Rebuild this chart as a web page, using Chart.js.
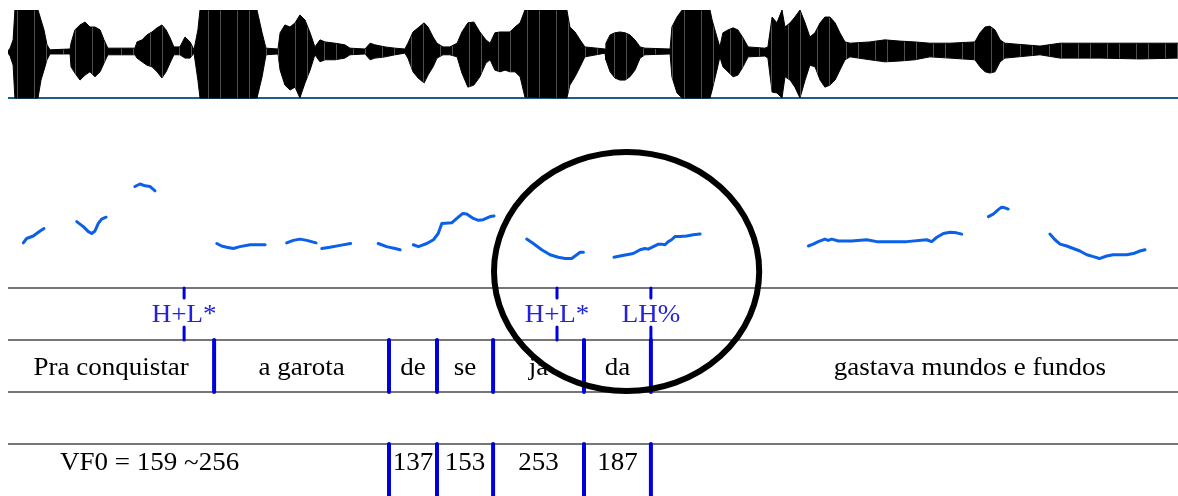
<!DOCTYPE html>
<html>
<head>
<meta charset="utf-8">
<script src="https://cdn.jsdelivr.net/npm/chart.js@4.4.1/dist/chart.umd.min.js"></script>
<style>
  html, body { margin: 0; padding: 0; background: #fff; }
  #figure { position: relative; width: 1178px; height: 496px; overflow: hidden; }
  #figure canvas { position: absolute; left: 0; }
</style>
</head>
<body>
<div id="figure">
  <canvas id="wave" width="1178" height="100" style="top:0"></canvas>
  <canvas id="pitch" width="1178" height="188" style="top:100px"></canvas>
  <canvas id="tiers" width="1178" height="396" style="top:100px"></canvas>
</div>
<script>
// time axis in seconds, shared by all three panels
const T_MAX = 3.9;

// waveform envelope (relative amplitude, clipped at the frame)
const waveTimes = [0.000,0.007,0.017,0.023,0.100,0.110,0.120,0.130,0.140,0.207,
  0.210,0.223,0.240,0.257,0.273,0.290,0.307,0.320,0.333,0.423,
  0.430,0.447,0.463,0.480,0.497,0.513,0.527,0.540,0.553,0.573,
  0.590,0.607,0.620,0.633,0.640,0.830,0.847,0.860,0.900,0.907,
  0.923,0.940,0.957,0.973,0.990,1.007,1.023,1.040,1.057,1.090,
  1.123,1.140,1.190,1.207,1.223,1.257,1.290,1.323,1.333,1.350,
  1.367,1.387,1.400,1.417,1.430,1.450,1.473,1.497,1.513,1.533,
  1.553,1.573,1.593,1.607,1.623,1.640,1.657,1.673,1.690,1.707,
  1.723,1.863,1.873,1.890,1.907,1.923,1.990,1.993,2.007,2.023,
  2.040,2.057,2.073,2.090,2.107,2.123,2.207,2.213,2.230,2.247,
  2.340,2.347,2.363,2.373,2.383,2.400,2.417,2.433,2.450,2.467,
  2.523,2.533,2.547,2.563,2.580,2.590,2.607,2.623,2.640,2.657,
  2.673,2.690,2.707,2.723,2.740,2.757,2.773,2.790,2.807,2.873,
  2.923,2.973,3.023,3.073,3.140,3.223,3.240,3.257,3.273,3.290,
  3.307,3.323,3.440,3.507,3.640,3.773,3.900];
const waveUpper = [0.01,0.08,0.28,1.00,1.00,0.76,0.52,0.16,0.04,0.06,
  0.20,0.52,0.64,0.71,0.59,0.59,0.52,0.28,0.08,0.08,
  0.23,0.28,0.40,0.47,0.57,0.64,0.52,0.33,0.11,0.11,
  0.35,0.23,0.04,0.52,1.00,1.00,0.45,0.08,0.06,0.45,
  0.64,0.59,0.69,0.88,0.76,0.45,0.11,0.28,0.23,0.20,
  0.16,0.08,0.06,0.20,0.16,0.11,0.08,0.06,0.20,0.47,
  0.57,0.69,0.59,0.35,0.20,0.11,0.11,0.20,0.47,0.69,
  0.71,0.47,0.28,0.20,0.45,0.47,0.47,0.47,0.59,0.69,
  1.00,1.00,0.59,0.47,0.28,0.11,0.06,0.20,0.40,0.45,
  0.47,0.45,0.40,0.28,0.11,0.08,0.06,0.59,0.83,1.00,
  1.00,0.76,0.35,0.11,0.45,0.52,0.57,0.52,0.33,0.11,
  0.08,0.11,0.83,0.69,1.00,0.59,0.69,0.83,1.00,0.69,
  0.35,0.45,0.69,0.83,0.83,0.69,0.45,0.23,0.20,0.23,
  0.28,0.25,0.23,0.20,0.20,0.23,0.45,0.59,0.61,0.52,
  0.28,0.20,0.13,0.20,0.20,0.20,0.20];
const waveLower = [-0.04,-0.11,-0.33,-1.12,-1.12,-0.69,-0.45,-0.20,-0.06,-0.06,
  -0.37,-0.52,-0.69,-0.57,-0.49,-0.61,-0.49,-0.28,-0.08,-0.08,
  -0.16,-0.25,-0.33,-0.37,-0.49,-0.64,-0.49,-0.28,-0.08,-0.08,
  -0.16,-0.16,-0.04,-0.69,-1.12,-1.12,-0.61,-0.08,-0.06,-0.45,
  -0.81,-0.93,-0.86,-1.12,-0.76,-0.45,-0.08,-0.25,-0.20,-0.20,
  -0.16,-0.08,-0.06,-0.20,-0.16,-0.13,-0.08,-0.04,-0.16,-0.49,
  -0.64,-0.76,-0.57,-0.37,-0.16,-0.08,-0.08,-0.13,-0.52,-0.86,
  -0.81,-0.61,-0.28,-0.20,-0.45,-0.49,-0.45,-0.49,-0.49,-0.61,
  -1.10,-1.12,-0.81,-0.61,-0.37,-0.13,-0.04,-0.20,-0.49,-0.64,
  -0.69,-0.69,-0.61,-0.45,-0.16,-0.08,-0.06,-0.61,-1.00,-1.12,
  -1.12,-0.93,-0.45,-0.13,-0.37,-0.49,-0.61,-0.57,-0.37,-0.13,
  -0.11,-0.16,-0.98,-1.00,-1.12,-0.61,-0.69,-0.86,-1.12,-0.69,
  -0.33,-0.37,-0.69,-0.86,-0.81,-0.69,-0.45,-0.20,-0.13,-0.20,
  -0.25,-0.23,-0.20,-0.13,-0.16,-0.20,-0.37,-0.49,-0.52,-0.49,
  -0.25,-0.16,-0.08,-0.16,-0.16,-0.18,-0.16];

// F0 track in Hz, null = unvoiced gap
const pitchTimes = [0.051,0.062,0.084,0.107,0.120, null,
  0.229,0.251,0.268,0.279,0.290,0.301,0.312,0.327, null,
  0.423,0.440,0.457,0.473,0.490, null,
  0.696,0.712,0.729,0.751,0.773,0.807,0.857, null,
  0.929,0.951,0.973,0.996,1.027, null,
  1.046,1.073,1.107,1.142, null,
  1.234,1.262,1.290,1.307, null,
  1.351,1.368,1.396,1.418,1.434,1.446,1.479,1.496,1.516,1.529,1.551,1.568,1.584,1.607,1.620, null,
  1.729,1.751,1.779,1.807,1.834,1.857,1.879,1.896,1.907,1.918, null,
  2.020,2.040,2.062,2.084,2.107,2.123,2.134,2.151,2.168,2.179,2.190,2.201,2.212,2.223,2.240,2.262,2.284,2.307, null,
  2.668,2.684,2.701,2.723,2.734,2.746,2.768,2.812,2.862,2.896,2.996,3.062,3.079,3.096,3.118,3.140,3.162,3.179, null,
  3.268,3.284,3.301,3.312,3.323,3.334, null,
  3.473,3.490,3.507,3.529,3.551,3.573,3.596,3.618,3.638,3.662,3.684,3.729,3.751,3.773,3.790];
const pitchHz = [172,179,183,191,195, null,
  206,198,190,187,191,203,210,213, null,
  262,266,263,262,255, null,
  171,167,165,163,166,169,169, null,
  172,176,178,176,172, null,
  163,165,168,171, null,
  171,166,163,161, null,
  169,166,171,177,187,203,204,211,219,218,211,208,209,214,215, null,
  178,171,161,153,149,147,147,153,157,157, null,
  149,151,153,155,161,163,162,166,170,170,169,174,177,182,182,183,185,186, null,
  167,170,174,178,176,178,175,175,177,174,174,177,174,181,187,189,188,186, null,
  214,218,225,229,228,226, null,
  186,177,170,167,163,159,153,150,147,151,153,153,155,159,161];

// annotation tiers
const toneLabels = ["H+L*", "H+L*", "LH%"];
const toneTimes = [0.587, 1.830, 2.143];
const words = ["Pra conquistar", "a garota", "de", "se", "ja", "da", "gastava mundos e fundos"];
const wordBounds = [0, 0.687, 1.270, 1.430, 1.617, 1.920, 2.143, 4.270];
const vfLabel = "VF0 = 159 ~256";
const vfLabelTime = 0.472;
const vfValues = ["137", "153", "253", "187"];
const vfBounds = [1.270, 1.430, 1.617, 1.920, 2.143];

// highlighted region: centre (s, tier) and radii (s, tiers)
const ringCenter = [2.062, 4.317];
const ringRadius = [0.442, 2.298];

const BLUE = "#0000dd";
const SERIF = '25px "Liberation Serif", "Times New Roman", serif';

Chart.defaults.animation = false;
Chart.defaults.responsive = false;
Chart.defaults.plugins.legend.display = false;
Chart.defaults.plugins.tooltip.enabled = false;
Chart.defaults.elements.point.radius = 0;

function timeScale() {
  return { type: "linear", min: 0, max: T_MAX, display: false };
}

// black fill with a few faint sample streaks
function waveFill() {
  const c = document.createElement("canvas");
  c.width = 29; c.height = 4;
  const g = c.getContext("2d");
  g.fillStyle = "#000";
  g.fillRect(0, 0, 29, 4);
  g.fillStyle = "#505050";
  [5, 17].forEach((x) => g.fillRect(x, 0, 1, 4));
  return g.createPattern(c, "repeat");
}

// ---- waveform ----
new Chart(document.getElementById("wave"), {
  type: "line",
  data: {
    datasets: [
      {
        data: waveTimes.map((t, i) => ({ x: t, y: waveUpper[i] })),
        borderColor: "#000", borderWidth: 1, backgroundColor: waveFill(),
        fill: "+1", tension: 0,
      },
      {
        data: waveTimes.map((t, i) => ({ x: t, y: waveLower[i] })),
        borderColor: "#000", borderWidth: 1, fill: false, tension: 0,
      },
      {
        data: [{ x: 0, y: 0 }, { x: T_MAX, y: 0 }],
        borderColor: "#3d8cc4", borderWidth: 1, fill: false,
      },
      {
        data: [{ x: 0, y: -1.12 }, { x: T_MAX, y: -1.12 }],
        borderColor: "#1d5e86", borderWidth: 2, fill: false,
      },
    ],
  },
  options: {
    layout: { padding: { left: 8, right: 0, top: 10, bottom: 0 } },
    scales: {
      x: timeScale(),
      y: { type: "linear", min: -1.17, max: 1, display: false },
    },
  },
});

// ---- pitch track ----
new Chart(document.getElementById("pitch"), {
  type: "line",
  data: {
    datasets: [
      {
        data: pitchTimes.map((t, i) => ({ x: t === null ? 0 : t, y: pitchHz[i] })),
        borderColor: "#0a60e8", borderWidth: 3, fill: false,
        spanGaps: false, tension: 0, borderJoinStyle: "round", borderCapStyle: "round",
      },
    ],
  },
  options: {
    layout: { padding: { left: 8, right: 0, top: 0, bottom: 0 } },
    scales: {
      x: timeScale(),
      y: { type: "linear", min: 100, max: 400, display: false },
    },
  },
});

// ---- tiers ----
// tier rows: 3..4 tones, 2..3 words, 1..2 empty, 0..1 VF0
function segments(list) {
  const pts = [];
  list.forEach(([x0, y0, x1, y1]) => {
    pts.push({ x: x0, y: y0 }, { x: x1, y: y1 }, { x: x1, y: null });
  });
  return pts;
}

const tierLines = segments([4, 3, 2, 1].map((y) => [0, y, wordBounds[wordBounds.length - 1], y]));
const wordMarks = segments(wordBounds.slice(1, -1).map((t) => [t, 3, t, 2]));
const vfMarks = segments(vfBounds.map((t) => [t, 1, t, 0]));
const toneMarks = segments(toneTimes.flatMap((t) => [[t, 4, t, 3.81], [t, 3.25, t, 3]]));

function drawLabel(ctx, px, py, text, color) {
  ctx.save();
  ctx.translate(px, py);
  ctx.scale(1.08, 1);
  ctx.fillStyle = color;
  ctx.fillText(text, 0, 0);
  ctx.restore();
}

const tierText = {
  id: "tierText",
  afterDatasetsDraw(chart) {
    const { ctx, scales: { x, y } } = chart;
    ctx.save();
    ctx.font = SERIF;
    ctx.textAlign = "center";
    ctx.textBaseline = "alphabetic";
    toneLabels.forEach((s, i) => {
      drawLabel(ctx, x.getPixelForValue(toneTimes[i]), y.getPixelForValue(3.346), s, "#2222dd");
    });
    words.forEach((s, i) => {
      const mid = (wordBounds[i] + wordBounds[i + 1]) / 2;
      drawLabel(ctx, x.getPixelForValue(mid), y.getPixelForValue(2.327), s, "#000");
    });
    drawLabel(ctx, x.getPixelForValue(vfLabelTime), y.getPixelForValue(0.5), vfLabel, "#000");
    vfValues.forEach((s, i) => {
      const mid = (vfBounds[i] + vfBounds[i + 1]) / 2;
      drawLabel(ctx, x.getPixelForValue(mid), y.getPixelForValue(0.5), s, "#000");
    });
    ctx.restore();
  },
  afterDraw(chart) {
    const { ctx, scales: { x, y } } = chart;
    const cx = x.getPixelForValue(ringCenter[0]);
    const cy = y.getPixelForValue(ringCenter[1]);
    const rx = x.getPixelForValue(ringCenter[0] + ringRadius[0]) - cx;
    const ry = cy - y.getPixelForValue(ringCenter[1] + ringRadius[1]);
    ctx.save();
    ctx.beginPath();
    ctx.ellipse(cx, cy, rx, ry, 0, 0, Math.PI * 2);
    ctx.lineWidth = 6;
    ctx.strokeStyle = "#000";
    ctx.stroke();
    ctx.restore();
  },
};

new Chart(document.getElementById("tiers"), {
  type: "line",
  data: {
    datasets: [
      { data: toneMarks, borderColor: BLUE, borderWidth: 3, borderCapStyle: "round", spanGaps: false, clip: false },
      { data: wordMarks, borderColor: BLUE, borderWidth: 4, borderCapStyle: "round", spanGaps: false, clip: false },
      { data: vfMarks, borderColor: BLUE, borderWidth: 4, borderCapStyle: "round", spanGaps: false },
      { data: tierLines, borderColor: "#4a4a4a", borderWidth: 1.3, spanGaps: false, clip: false },
    ],
  },
  options: {
    layout: { padding: { left: 8, right: 0, top: 188, bottom: 0 } },
    scales: {
      x: timeScale(),
      y: { type: "linear", min: 0, max: 4, display: false },
    },
  },
  plugins: [tierText],
});
</script>
</body>
</html>
